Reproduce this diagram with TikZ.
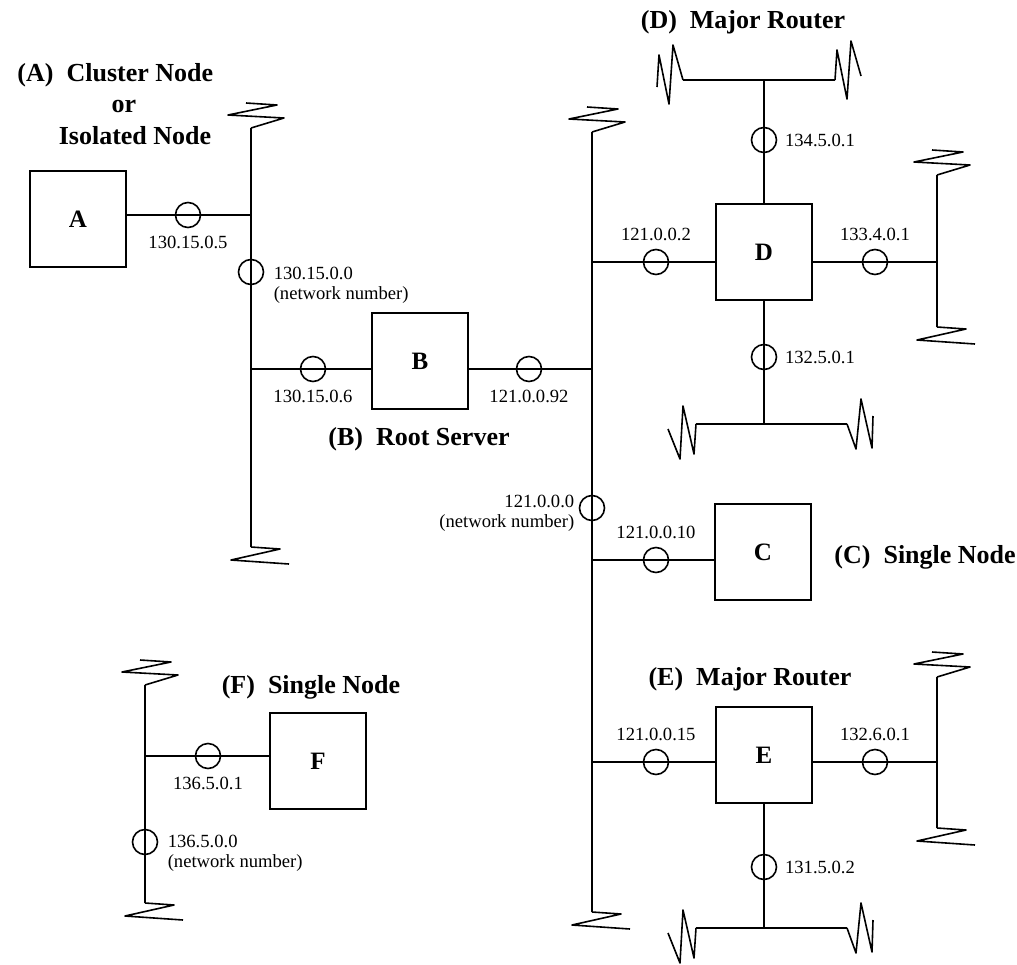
\documentclass[tikz,border=0pt]{standalone}
\usepackage{fontspec}
\setmainfont{Liberation Serif}
\tikzset{
  box/.style={draw, minimum size=48pt, inner sep=0pt, font=\fontsize{12.5}{14}\selectfont\bfseries},
  port/.style={draw, circle, minimum size=12.5pt, inner sep=0pt},
  ip/.style={font=\fontsize{9.3}{10}\selectfont, inner sep=2pt},
  title/.style={anchor=base, font=\fontsize{13}{15}\selectfont\bfseries},
  brkup/.pic={\draw[line join=round] (0,0) -- (33,-10) -- (-23,-13) -- (26,-23) -- (-5,-25);},
  brkdown/.pic={\draw[line join=round] (0,0) -- (29,2) -- (-20,13) -- (38,17);},
  brkleft/.pic={\draw[line join=round] (0,0) -- (-10,-35) -- (-14,24) -- (-24,-25) -- (-26,7);},
  brkright/.pic={\draw[line join=round] (0,0) -- (2,-30) -- (12,19) -- (16,-39) -- (26,-4);},
  brkleftlow/.pic={\draw[line join=round] (0,0) -- (-2,30) -- (-13,-18) -- (-16,35) -- (-28,5);},
  brkrightlow/.pic={\draw[line join=round] (0,0) -- (9,25) -- (14,-25) -- (25,24) -- (26,-8);}
}
\begin{document}
\begin{tikzpicture}[x=0.5pt, y=-0.5pt, thick]
  \useasboundingbox (0,0) rectangle (1017,964);

  % Titles
  \node[title, anchor=base west] (tA1) at (10,81) {(A)~~Cluster Node};
  \node[title] (tA2) at (124,112) {or};
  \node[title] (tA3) at (135,144) {Isolated Node};
  \node[title] (tB) at (419,445) {(B)~~Root Server};
  \node[title, anchor=base west] (tC) at (827,563) {(C)~~Single Node};
  \node[title] (tD) at (743,28) {(D)~~Major Router};
  \node[title] (tE) at (750,685) {(E)~~Major Router};
  \node[title] (tF) at (311,693) {(F)~~Single Node};

  % Nodes
  \node[box] (A) at (78,219) {A};
  \node[box] (B) at (420,361) {B};
  \node[box] (C) at (763,552) {C};
  \node[box] (D) at (764,252) {D};
  \node[box] (E) at (764,755) {E};
  \node[box] (F) at (318,761) {F};

  % Network 130.15
  \coordinate (tL) at (251,128);
  \coordinate (bL) at (251,547);
  \coordinate (jA) at (251,215);
  \coordinate (jB1) at (251,369);
  \draw (tL) -- (bL);
  \draw (A.east |- jA) -- (jA);
  \draw (jB1) -- (B.west |- jB1);
  \pic at (tL) {brkup};
  \pic at (bL) {brkdown};

  % Network 121
  \coordinate (tM) at (592,132);
  \coordinate (bM) at (592,912);
  \coordinate (jB2) at (592,369);
  \coordinate (jD) at (592,262);
  \coordinate (jC) at (592,560);
  \coordinate (jE) at (592,762);
  \draw (tM) -- (bM);
  \draw (B.east |- jB2) -- (jB2);
  \draw (jD) -- (D.west |- jD);
  \draw (jC) -- (C.west |- jC);
  \draw (jE) -- (E.west |- jE);
  \pic at (tM) {brkup};
  \pic at (bM) {brkdown};

  % Router D
  \coordinate (dT) at (764,80);
  \coordinate (dTL) at (683,80);
  \coordinate (dTR) at (835,80);
  \coordinate (dR) at (937,262);
  \coordinate (dRT) at (937,175);
  \coordinate (dRB) at (937,327);
  \coordinate (dB) at (764,424);
  \coordinate (dBL) at (696,424);
  \coordinate (dBR) at (847,424);
  \draw (D.north) -- (dT);
  \draw (dTL) -- (dTR);
  \draw (D.east |- dR) -- (dR);
  \draw (dRT) -- (dRB);
  \draw (D.south) -- (dB);
  \draw (dBL) -- (dBR);
  \pic at (dTL) {brkleft};
  \pic at (dTR) {brkright};
  \pic at (dRT) {brkup};
  \pic at (dRB) {brkdown};
  \pic at (dBL) {brkleftlow};
  \pic at (dBR) {brkrightlow};

  % Router E
  \coordinate (eR) at (937,762);
  \coordinate (eRT) at (937,677);
  \coordinate (eRB) at (937,828);
  \coordinate (eB) at (764,928);
  \coordinate (eBL) at (696,928);
  \coordinate (eBR) at (847,928);
  \draw (E.east |- eR) -- (eR);
  \draw (eRT) -- (eRB);
  \draw (E.south) -- (eB);
  \draw (eBL) -- (eBR);
  \pic at (eRT) {brkup};
  \pic at (eRB) {brkdown};
  \pic at (eBL) {brkleftlow};
  \pic at (eBR) {brkrightlow};

  % Network 136.5
  \coordinate (tF) at (145,685);
  \coordinate (bF) at (145,903);
  \coordinate (jF) at (145,756);
  \draw (tF) -- (bF);
  \draw (jF) -- (F.west |- jF);
  \pic at (tF) {brkup};
  \pic at (bF) {brkdown};

  % Interfaces
  \foreach \nm/\pos/\sd/\txt in {pA/{188,215}/below/130.15.0.5, pB1/{313,369}/below/130.15.0.6,
      pB2/{529,369}/below/121.0.0.92, pD1/{656,262}/above/121.0.0.2, pC/{656,560}/above/121.0.0.10,
      pE1/{656,762}/above/121.0.0.15, pD2/{764,140}/right/134.5.0.1, pD3/{875,262}/above/133.4.0.1,
      pD4/{764,357}/right/132.5.0.1, pE2/{875,762}/above/132.6.0.1, pE3/{764,867}/right/131.5.0.2,
      pF1/{208,756}/below/136.5.0.1}
    \node[port, label={[ip, label distance=1.5pt]\sd:\txt}] (\nm) at (\pos) {};
  \node[port] (pL) at (251,272) {};
  \node[port] (pM) at (592,508) {};
  \node[port] (pF2) at (145,842) {};

  % Network numbers
  \node[ip, anchor=north west, align=left] (nL) at (269,262) {130.15.0.0\\(network number)};
  \node[ip, anchor=north east, align=right] (nM) at (579,490) {121.0.0.0\\(network number)};
  \node[ip, anchor=north west, align=left] (nF) at (163,830) {136.5.0.0\\(network number)};
\end{tikzpicture}
\end{document}
